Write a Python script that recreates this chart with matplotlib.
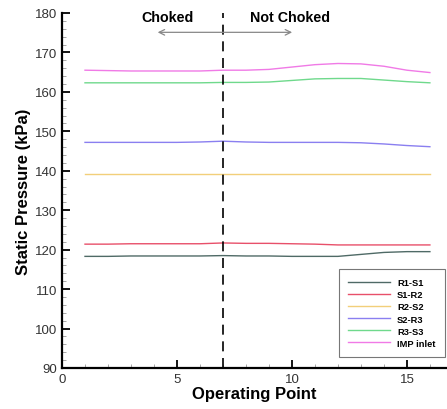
import matplotlib
matplotlib.use("Agg")
import matplotlib.pyplot as plt
from matplotlib.ticker import MultipleLocator

plt.rcParams['font.family'] = ['Liberation Sans', 'DejaVu Sans']

x = list(range(1, 17))
r1_s1 = [118.3, 118.3, 118.4, 118.4, 118.4, 118.4, 118.5, 118.4, 118.4, 118.3, 118.3, 118.3, 118.8, 119.3, 119.5, 119.5]
s1_r2 = [121.4, 121.4, 121.5, 121.5, 121.5, 121.5, 121.7, 121.6, 121.6, 121.5, 121.4, 121.2, 121.2, 121.2, 121.2, 121.2]
r2_s2 = [139.3] * 16
s2_r3 = [147.2, 147.2, 147.2, 147.2, 147.2, 147.3, 147.5, 147.3, 147.2, 147.2, 147.2, 147.2, 147.1, 146.8, 146.4, 146.1]
r3_s3 = [162.3, 162.3, 162.3, 162.3, 162.3, 162.3, 162.4, 162.4, 162.5, 162.9, 163.3, 163.4, 163.4, 163.0, 162.6, 162.3]
imp_inlet = [165.5, 165.4, 165.3, 165.3, 165.3, 165.3, 165.5, 165.5, 165.7, 166.3, 166.9, 167.2, 167.1, 166.5, 165.5, 164.9]

series = [
    ("R1-S1", r1_s1, "#4f6a66"),
    ("S1-R2", s1_r2, "#e8506a"),
    ("R2-S2", r2_s2, "#f2cf7a"),
    ("S2-R3", s2_r3, "#8a7ff0"),
    ("R3-S3", r3_s3, "#6fd98c"),
    ("IMP inlet", imp_inlet, "#f07ae6"),
]

fig = plt.figure(figsize=(4.47, 4.10), dpi=100)
ax = fig.add_axes([62/447, 41/410, (446-62)/447, (369-14)/410])

for name, vals, col in series:
    ax.plot(x, vals, color=col, lw=1.0, label=name)

ax.axvline(7, color="black", lw=1.2, ls=(0, (6, 4)))

ax.set_xlim(0, 16.7)
ax.set_ylim(90, 180)
ax.xaxis.set_major_locator(MultipleLocator(5))
ax.xaxis.set_minor_locator(MultipleLocator(1))
ax.yaxis.set_major_locator(MultipleLocator(10))
ax.yaxis.set_minor_locator(MultipleLocator(2))
ax.tick_params(which="major", direction="in", length=6, width=1.3, labelsize=9.5, colors="black", labelcolor="#333333")
ax.tick_params(which="minor", direction="in", length=3, width=0.6, color="#999999")
for s in ["top", "right"]:
    ax.spines[s].set_visible(False)
for s in ["left", "bottom"]:
    ax.spines[s].set_linewidth(1.6)

ax.set_xlabel("Operating Point", fontsize=12, fontweight="bold", labelpad=1)
ax.set_ylabel("Static Pressure (kPa)", fontsize=12, fontweight="bold", labelpad=3)

ax.annotate("", xy=(4.04, 175.1), xytext=(10.13, 175.1),
            arrowprops=dict(arrowstyle="<->", color="#888888", lw=0.9))
ax.text(4.57, 179.0, "Choked", fontsize=10.3, fontweight="bold", ha="center", va="center")
ax.text(9.9, 179.0, "Not Choked", fontsize=10.3, fontweight="bold", ha="center", va="center")

leg = ax.legend(loc="lower right", bbox_to_anchor=(0.997, 0.031), borderaxespad=0, frameon=True,
                fancybox=False, edgecolor="#555555", handlelength=4.5, labelspacing=0.33,
                borderpad=1.0, prop={"weight": "bold", "size": 6.7})
leg.get_frame().set_linewidth(0.8)

fig.savefig("out.png", dpi=100)
